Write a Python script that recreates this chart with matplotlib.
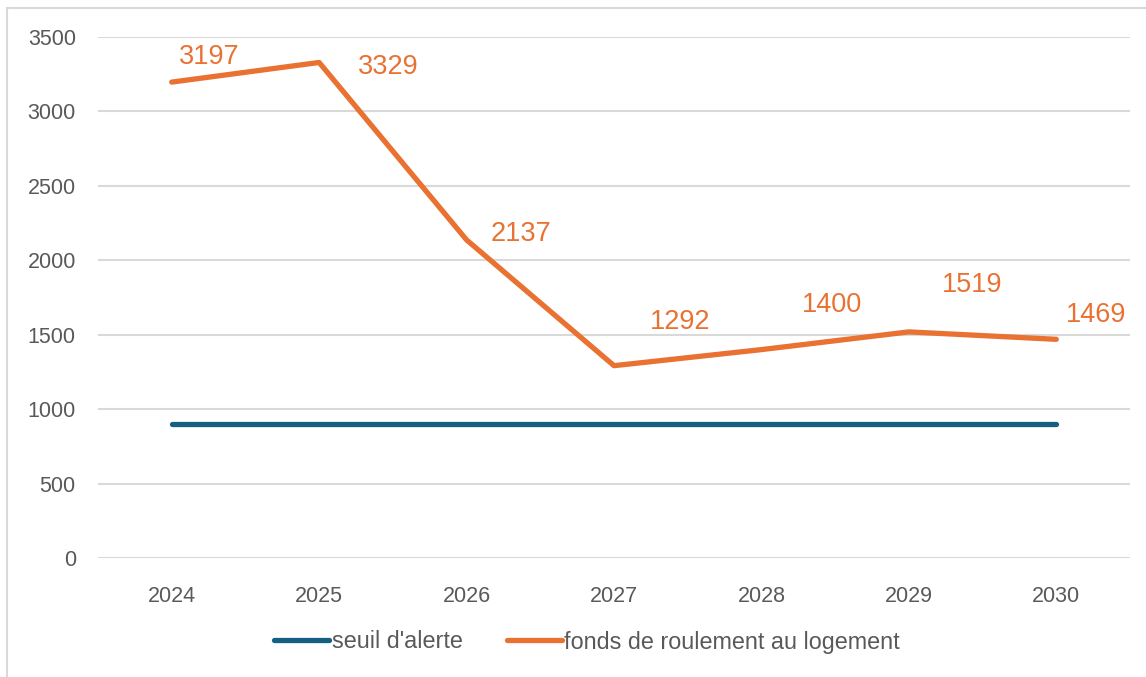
import matplotlib
matplotlib.use("Agg")
import matplotlib.pyplot as plt
from matplotlib.patches import Rectangle

years = ["2024", "2025", "2026", "2027", "2028", "2029", "2030"]
seuil = [900, 900, 900, 900, 900, 900, 900]
fonds = [3197, 3329, 2137, 1292, 1400, 1519, 1469]
yticks = [0, 500, 1000, 1500, 2000, 2500, 3000, 3500]

# label offsets (pixels), style only
label_offsets = [(38, 25), (69, -5), (54, 6), (66, 44), (71, 45), (63, 47), (40, 24)]

plt.rcParams['font.family'] = ['Liberation Sans', 'DejaVu Sans']

BLUE = "#156082"
ORANGE = "#E97132"
GRAY_TXT = "#595959"
GRID = "#D9D9D9"

fig = plt.figure(figsize=(11.46, 6.77), dpi=100)
ax = fig.add_axes([98/1146, 1-558/677, (1130-98)/1146, (558-37)/677])

x = list(range(len(years)))
ax.plot(x, seuil, color=BLUE, lw=3.8, solid_capstyle='round', label="seuil d'alerte", zorder=3)
ax.plot(x, fonds, color=ORANGE, lw=3.8, solid_capstyle='round', solid_joinstyle='round',
        label="fonds de roulement au logement", zorder=4)

for xi, v, (dx, dy) in zip(x, fonds, label_offsets):
    ax.annotate(str(v), (xi, v), xytext=(dx, dy), textcoords='offset pixels',
                ha='center', va='center', color=ORANGE, fontsize=19.5)

ax.set_xlim(-0.5, len(years) - 0.5)
ax.set_ylim(0, 3500)
ax.set_yticks(yticks)
ax.set_yticklabels([str(t) for t in yticks])
ax.set_xticks(x)
ax.set_xticklabels(years)
ax.tick_params(axis='both', length=0, labelsize=15.5, colors=GRAY_TXT)
ax.tick_params(axis='x', pad=20)
ax.tick_params(axis='y', pad=16)
ax.yaxis.grid(True, color=GRID, lw=1.5)
ax.set_axisbelow(True)
for s in ax.spines.values():
    s.set_visible(False)

leg = fig.legend(loc='center', bbox_to_anchor=(587/1146, 1-642/677), ncol=2, frameon=False,
                 fontsize=16.8, handlelength=2.35, handletextpad=0.12, columnspacing=1.9)
for t in leg.get_texts():
    t.set_color(GRAY_TXT)
for h in leg.get_lines():
    h.set_linewidth(3.8)
    h.set_solid_capstyle('round')

fig.patches.append(Rectangle((7/1146, -0.1), 1.2, 1 - 8/677 + 0.1, transform=fig.transFigure,
                             fill=False, edgecolor=GRID, lw=1.5, zorder=0))

fig.savefig("out.png", dpi=100, facecolor='white')
